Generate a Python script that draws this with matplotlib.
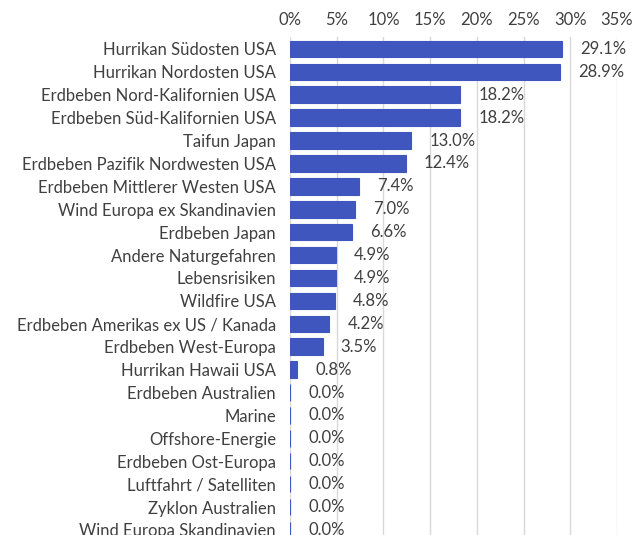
import numpy as np
import matplotlib
matplotlib.use('Agg')
import matplotlib.pyplot as plt
from matplotlib.ticker import PercentFormatter

categories = [
    'Hurrikan Südosten USA', 'Hurrikan Nordosten USA', 'Erdbeben Nord-Kalifornien USA',
    'Erdbeben Süd-Kalifornien USA', 'Taifun Japan', 'Erdbeben Pazifik Nordwesten USA',
    'Erdbeben Mittlerer Westen USA', 'Wind Europa ex Skandinavien', 'Erdbeben Japan',
    'Andere Naturgefahren', 'Lebensrisiken', 'Wildfire USA',
    'Erdbeben Amerikas ex US / Kanada', 'Erdbeben West-Europa', 'Hurrikan Hawaii USA',
    'Erdbeben Australien', 'Marine', 'Offshore-Energie', 'Erdbeben Ost-Europa',
    'Luftfahrt / Satelliten', 'Zyklon Australien', 'Wind Europa Skandinavien',
]
values = [29.1, 28.9, 18.2, 18.2, 13.0, 12.4, 7.4, 7.0, 6.6, 4.9, 4.9, 4.8,
          4.2, 3.5, 0.8, 0.0, 0.0, 0.0, 0.0, 0.0, 0.0, 0.0]
xticks = [0, 5, 10, 15, 20, 25, 30, 35]

plt.rcParams['font.family'] = ['Lato', 'DejaVu Sans']
text_color = '#404040'
bar_color = '#3F56BF'

fig = plt.figure(figsize=(6.35, 5.35), dpi=100)
ax = fig.add_axes([0.4567, -0.012, 0.515, 0.942])

y = np.arange(len(categories))
ax.barh(y, values, height=0.72, color=bar_color, edgecolor=bar_color, linewidth=0.8, zorder=3)
for yi, v in zip(y, values):
    ax.annotate('{:.1f}%'.format(v), xy=(v, yi), xytext=(13, 0), textcoords='offset points',
                va='center', ha='left', fontsize=12, color=text_color)

ax.set_ylim(len(categories) - 0.5, -0.5)
ax.set_yticks(y)
ax.set_yticklabels(categories, fontsize=12, color=text_color)
ax.set_xlim(0, 35)
ax.set_xticks(xticks)
ax.xaxis.set_major_formatter(PercentFormatter(decimals=0))
ax.xaxis.tick_top()
ax.tick_params(axis='x', labelsize=12, labelcolor=text_color, length=0, pad=7)
ax.tick_params(axis='y', length=0, pad=10)
ax.grid(axis='x', color='#D9D9D9', linewidth=1, zorder=0)
for s in ax.spines.values():
    s.set_visible(False)

fig.savefig('out.png', dpi=100)
